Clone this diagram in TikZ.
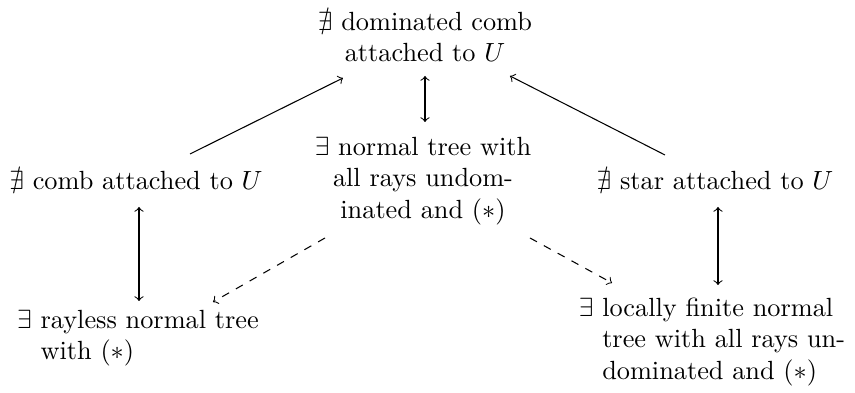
\documentclass[tikz,border=0pt]{standalone}
\usepackage{amssymb}
\usetikzlibrary{calc}
\begin{document}
\begin{tikzpicture}[x=0.38023pt,y=-0.38023pt,
  lbl/.style={inner sep=0pt,align=center},
  lbll/.style={inner sep=0pt,align=left},
  imp/.style={->},
  eqv/.style={<->},
  dimp/.style={->,dashed}]
\useasboundingbox (0,0) rectangle (855,393);
\node[lbl]  (top)   at (425,37)  {$\nexists$ dominated comb\\attached to $U$};
\node[lbl]  (left)  at (136,181) {$\nexists$ comb attached to $U$};
\node[lbl]  (mid)   at (423,181) {$\exists$ normal tree with\\all rays undom-\\inated and $(*)$};
\node[lbl]  (right) at (715,181) {$\nexists$ star attached to $U$};
\node[lbll] (bl)    at (138,338) {$\exists$ rayless normal tree\\\hphantom{$\exists$}\ with $(*)$};
\node[lbll] (br)    at (712,342) {$\exists$ locally finite normal\\\hphantom{$\exists$}\ tree with all rays un-\\\hphantom{$\exists$}\ dominated and $(*)$};
\draw[imp] ($(left.center)+(54,-27)$) -- ($(top.center)+(-82,41)$);
\draw[imp] ($(right.center)+(-50,-26)$) -- ($(top.center)+(85,39)$);
\draw[eqv] ($(top.center)+(0,39)$) -- ($(mid.center)+(2,-59)$);
\draw[eqv] ($(left.center)+(3,26)$) -- ($(bl.center)+(1,-37)$);
\draw[eqv] ($(right.center)+(3,26)$) -- ($(br.center)+(6,-57)$);
\draw[dimp] ($(mid.center)+(-98,57)$) -- ($(bl.center)+(75,-36)$);
\draw[dimp] ($(mid.center)+(107,57)$) -- ($(br.center)+(-100,-59)$);
\end{tikzpicture}
\end{document}
